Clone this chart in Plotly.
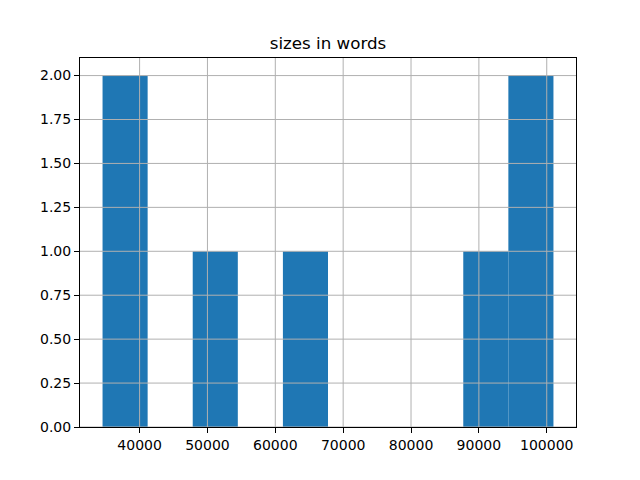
import numpy as np
import plotly.graph_objects as go

# word counts of the texts
word_counts = [34540, 38200, 50300, 64000, 90500, 97000, 100990]
n_bins = 10
x_ticks = [40000, 50000, 60000, 70000, 80000, 90000, 100000]
y_ticks = [0, 0.25, 0.5, 0.75, 1.0, 1.25, 1.5, 1.75, 2.0]
title_text = "sizes in words"

counts, edges = np.histogram(word_counts, bins=n_bins)
widths = np.diff(edges)

fig = go.Figure()
fig.add_trace(go.Bar(
    x=edges[:-1], y=counts, width=widths, offset=0,
    marker=dict(color="#1f77b4", line=dict(width=0)),
))

span = edges[-1] - edges[0]
xr = [edges[0] - 0.05 * span, edges[-1] + 0.05 * span]
yr = [0, counts.max() * 1.05]

grid_color = "#b0b0b0"
shapes = []
for t in x_ticks:
    shapes.append(dict(type="line", xref="x", yref="paper", x0=t, x1=t, y0=0, y1=1,
                       line=dict(color=grid_color, width=1), layer="above"))
for t in y_ticks:
    shapes.append(dict(type="line", xref="paper", yref="y", x0=0, x1=1, y0=t, y1=t,
                       line=dict(color=grid_color, width=1), layer="above"))

W, H = 632, 472  # page body has an 8px margin
font = dict(family="DejaVu Sans", size=14, color="black")
fig.update_layout(
    width=W, height=H,
    margin=dict(l=72, r=64, t=50, b=53),
    paper_bgcolor="white", plot_bgcolor="white",
    showlegend=False,
    shapes=shapes,
    font=font,
    title=dict(text=title_text, x=0.5, xref="paper", y=1 - 35 / H, yref="container",
               xanchor="center", yanchor="middle",
               font=dict(family="DejaVu Sans", size=16.7, color="black")),
    xaxis=dict(range=xr, tickvals=x_ticks, ticktext=[str(t) for t in x_ticks],
               showgrid=False, zeroline=False, showline=True, linecolor="black",
               linewidth=1, mirror=True, ticks="outside", ticklen=5, tickwidth=1,
               tickcolor="black", tickfont=font),
    yaxis=dict(range=yr, tickvals=y_ticks, ticktext=[f"{t:.2f}" for t in y_ticks],
               showgrid=False, zeroline=False, showline=True, linecolor="black",
               linewidth=1, mirror=True, ticks="outside", ticklen=5, tickwidth=1,
               tickcolor="black", tickfont=font),
)

fig.write_html("out.html")
